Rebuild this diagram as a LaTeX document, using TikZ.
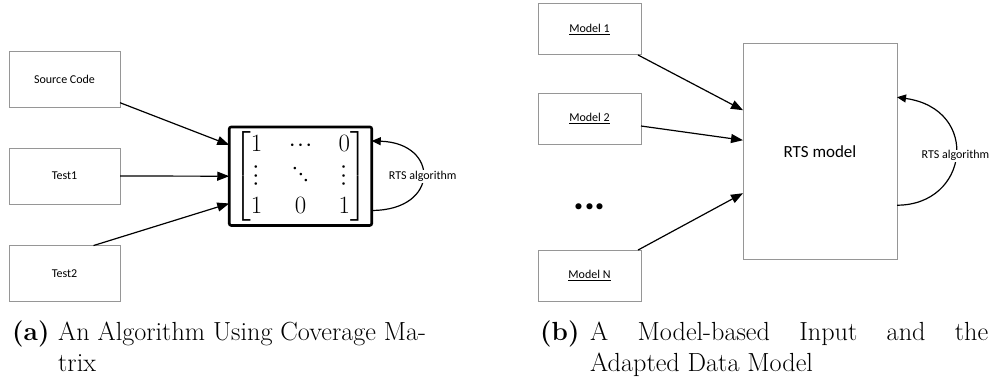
\documentclass[tikz,border=0pt]{standalone}
\usepackage{amsmath}
\usepackage{fontspec}
\newfontfamily\carlito{Carlito}
\usetikzlibrary{arrows.meta}
\definecolor{boxgray}{RGB}{150,150,150}
% tight dots, also turned for the middle row
\newcommand{\tdots}{\mathord{\cdot}\mkern1mu\mathord{\cdot}\mkern1mu\mathord{\cdot}}
\newcommand{\bigvdots}{\smash{\raisebox{-5pt}{\rotatebox{90}{$\tdots$}}}}
\newcommand{\bigddots}{\smash{\raisebox{12pt}{\rotatebox{-45}{$\tdots$}}}}

\begin{document}
\begin{tikzpicture}[x=1pt,y=-1pt]
	\tikzstyle{every node}=[font=\carlito\fontsize{12}{14}\selectfont]
	\tikzstyle{box}=[draw=boxgray,line width=1pt,outer sep=0pt,inner sep=0pt,minimum width=111pt,minimum height=56pt]
	\tikzstyle{mbox}=[box,minimum width=103pt,minimum height=51.5pt]
	\tikzstyle{link}=[line width=1.2pt,-{Triangle[length=12pt,width=9pt]}]
	\tikzstyle{selfarc}=[line width=1.2pt,-{Triangle[length=9pt,width=8pt]}]
	\tikzstyle{caption}=[font=\rmfamily\fontsize{26.2}{31.5}\selectfont,inner sep=0pt,anchor=base west]

	\useasboundingbox (0,0) rectangle (990,380);

	% (a) coverage matrix
	\node[box] (src) at (64.5,79.7) {Source Code};
	\node[box] (test1) at (64.5,176) {Test1};
	\node[box,minimum height=55.5pt] (test2) at (64.5,273.3) {Test2};
	\node[draw,line width=2.6pt,rounded corners=2pt,outer sep=0pt,inner sep=0pt,
		minimum width=142.5pt,minimum height=98.5pt,font=\fontsize{27}{31}\selectfont] (mat) at (300.5,176.2)
		{\setlength{\arraycolsep}{13pt}$\begin{bmatrix}1&\tdots&0\\\bigvdots&\bigddots&\bigvdots\\1&0&1\end{bmatrix}$};

	\draw[link] ([yshift=5pt]src.south east) -- ([yshift=-18pt]mat.north west);
	\draw[link] (test1.east) -- (mat.west);
	\draw[link] ([xshift=29pt]test2.north) -- ([yshift=22pt]mat.south west);
	\draw[selfarc] ([yshift=15pt]mat.south east) .. controls +(68,0) and +(68,2) .. ([yshift=-14pt]mat.north east)
		node[pos=0.5,fill=white,inner sep=1pt] (algoa) {RTS algorithm};

	% (b) model based input
	\node[mbox] (m1) at (589.5,29.2) {\underline{Model 1}};
	\node[mbox,minimum height=50.6pt] (m2) at (589.5,119) {\underline{Model 2}};
	\node (dots) at (589.5,207) {\fontsize{41}{41}\selectfont\textbf{...}};
	\node[mbox] (mN) at (589.5,275.8) {\underline{Model N}};
	\node[box,minimum width=154pt,minimum height=216pt,font=\carlito\fontsize{17}{20}\selectfont] (rts) at (820,151.2) {RTS model};

	\draw[link] ([xshift=-3pt]m1.south east) -- ([yshift=-67pt]rts.north west);
	\draw[link] ([yshift=-7pt]m2.east) -- ([yshift=-97pt]rts.north west);
	\draw[link] ([xshift=-3pt]mN.north east) -- ([yshift=66pt]rts.south west);
	\draw[selfarc] ([yshift=54pt]rts.south east) .. controls +(72,0) and +(84,12) .. ([yshift=-54pt]rts.north east)
		node[pos=0.5,fill=white,inner sep=1pt] (algob) {RTS algorithm};

	% captions
	\node[caption,font=\rmfamily\bfseries\fontsize{26.2}{31.5}\selectfont] (taga) at (12,340) {(a)};
	\node[caption] (capa) at (58,340) {\parbox[t]{422pt}{\raggedright An Algorithm Using Coverage Ma-\\trix}};
	\node[caption,font=\rmfamily\bfseries\fontsize{26.2}{31.5}\selectfont] (tagb) at (540,340) {(b)};
	\node[caption] (capb) at (590,340) {\parbox[t]{398pt}{\makebox[398pt][s]{A Model-based Input and the}\\Adapted Data Model}};
\end{tikzpicture}
\end{document}
